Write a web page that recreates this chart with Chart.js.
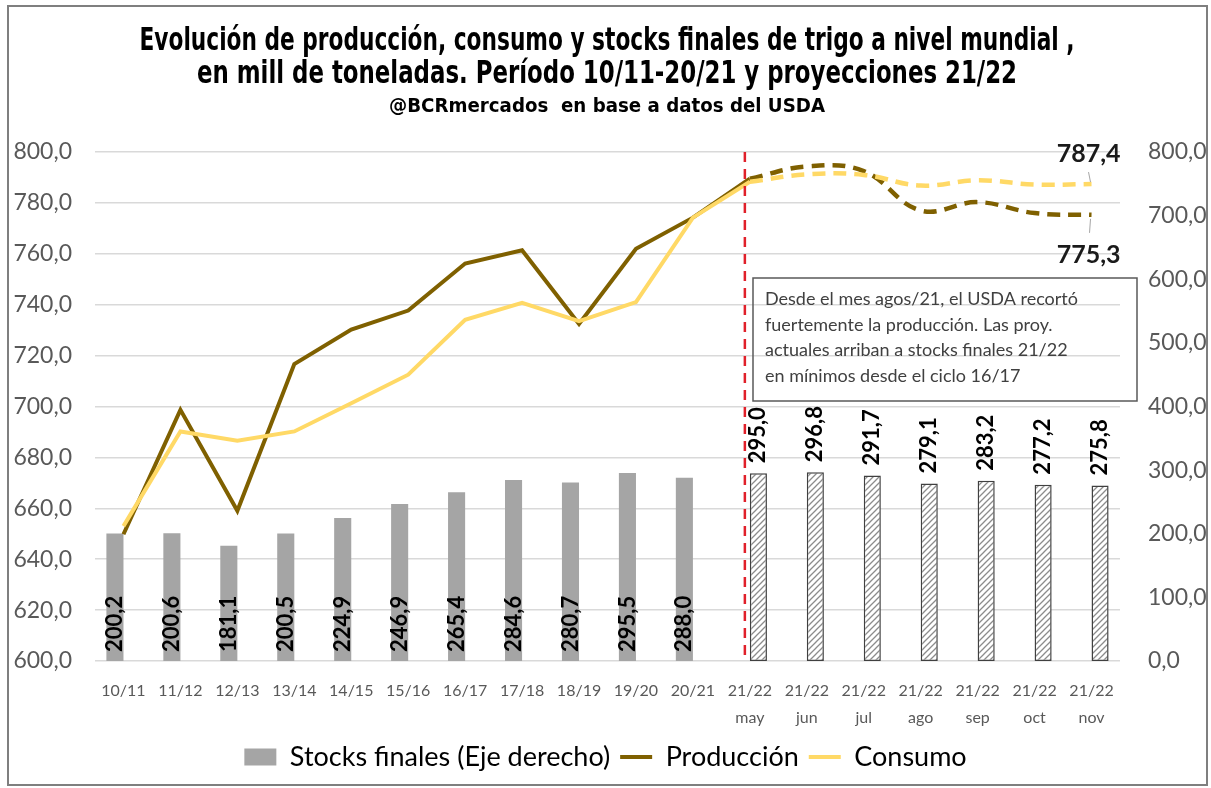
<!DOCTYPE html>
<html>
<head>
<meta charset="utf-8">
<script src="https://cdn.jsdelivr.net/npm/chart.js@4.4.0/dist/chart.umd.min.js"></script>
<style>
  html, body { margin: 0; padding: 0; background: #fff; }
  #wrap { width: 1211px; height: 788px; position: relative; }
</style>
</head>
<body>
<div id="wrap"><canvas id="myChart" width="1211" height="788"></canvas></div>
<script>
// campañas (las 7 ultimas son las proyecciones 21/22 de cada mes del USDA)
const categorias = ['10/11', '11/12', '12/13', '13/14', '14/15', '15/16', '16/17', '17/18', '18/19', '19/20', '20/21',
  ['21/22', 'may'], ['21/22', 'jun'], ['21/22', 'jul'], ['21/22', 'ago'], ['21/22', 'sep'], ['21/22', 'oct'], ['21/22', 'nov']];

// mill de toneladas, eje izquierdo
const produccion = [649.8, 698.7, 659.0, 716.7, 730.2, 737.7, 756.2, 761.4, 732.4, 762.0, 774.2,
  789.5, 794.3, 792.5, 777.0, 780.3, 776.0, 775.3];
const consumo = [653.0, 690.2, 686.6, 690.2, 701.3, 712.5, 734.1, 740.7, 733.5, 741.0, 774.2,
  788.3, 791.2, 791.0, 786.8, 788.9, 787.2, 787.4];

// stocks finales, eje derecho
const stocksHist = [200.2, 200.6, 181.1, 200.5, 224.9, 246.9, 265.4, 284.6, 280.7, 295.5, 288.0];
const stocksProy = [295.0, 296.8, 291.7, 279.1, 283.2, 277.2, 275.8];

const nota = ['Desde el mes agos/21, el USDA recortó',
  'fuertemente la producción. Las proy.',
  'actuales arriban a stocks finales 21/22',
  'en mínimos desde el ciclo 16/17'];

const inicioProy = stocksHist.length;
const fmt = v => Number(v).toFixed(1).replace('.', ',');
const nulls = n => Array(n).fill(null);

const stocksHistData = stocksHist.concat(nulls(stocksProy.length));
const stocksProyData = nulls(inicioProy).concat(stocksProy);
const prodSolida = produccion.map((v, i) => i <= inicioProy ? v : null);
const prodProy = produccion.map((v, i) => i >= inicioProy ? v : null);
const consSolida = consumo.map((v, i) => i <= inicioProy ? v : null);
const consProy = consumo.map((v, i) => i >= inicioProy ? v : null);

const colProd = '#7f6000';
const colCons = '#ffd966';
const colStock = '#a5a5a5';
const fuente = 'Lato, "Open Sans", sans-serif';

// rayado para las barras proyectadas
function rayado() {
  const s = 6;
  const p = document.createElement('canvas');
  p.width = s; p.height = s;
  const g = p.getContext('2d');
  g.fillStyle = '#fff';
  g.fillRect(0, 0, s, s);
  g.strokeStyle = '#8c8c8c';
  g.lineWidth = 1.3;
  g.beginPath();
  g.moveTo(0, s); g.lineTo(s, 0);
  g.moveTo(-1, 1); g.lineTo(1, -1);
  g.moveTo(s - 1, s + 1); g.lineTo(s + 1, s - 1);
  g.stroke();
  return g.createPattern(p, 'repeat');
}

const ctx = document.getElementById('myChart').getContext('2d');

const fondo = {
  id: 'fondo',
  beforeDraw(chart) {
    const c = chart.ctx;
    c.save();
    c.fillStyle = '#fff';
    c.fillRect(0, 0, chart.width, chart.height);
    c.restore();
  },
  afterDraw(chart) {
    const c = chart.ctx;
    c.save();
    c.strokeStyle = '#7f7f7f';
    c.lineWidth = 2;
    c.strokeRect(8, 6, 1199, 779);

    // titulo (fuente angosta, ajustada al ancho)
    const linea = (txt, y, font, w) => {
      c.font = font;
      const m = c.measureText(txt).width;
      c.save();
      c.translate(607, y);
      c.scale(w / m, 1);
      c.textAlign = 'center';
      c.textBaseline = 'middle';
      c.fillStyle = '#000';
      c.fillText(txt, 0, 0);
      c.restore();
    };
    const fTit = 'bold 32px "Liberation Sans Narrow", "DejaVu Sans Condensed", sans-serif';
    linea('Evolución de producción, consumo y stocks finales de trigo a nivel mundial ,', 42, fTit, 935);
    linea('en mill de toneladas. Período 10/11-20/21 y proyecciones 21/22', 75, fTit, 820);
    linea('@BCRmercados  en base a datos del USDA', 107, 'bold 19px "Liberation Sans Narrow", "DejaVu Sans Condensed", sans-serif', 436);

    // recuadro de texto
    const a = chart.chartArea;
    const bx = a.left + 658, by = 278, bw = 384, bh = 123;
    c.strokeStyle = '#595959';
    c.lineWidth = 1.5;
    c.strokeRect(bx, by, bw, bh);
    c.fillStyle = '#404040';
    c.font = '18px ' + fuente;
    c.textAlign = 'left';
    c.textBaseline = 'middle';
    nota.forEach((t, i) => c.fillText(t, bx + 12, by + 21 + i * 25.7));
    c.restore();
  }
};

const etiquetas = {
  id: 'etiquetas',
  afterDatasetsDraw(chart) {
    const c = chart.ctx;
    const a = chart.chartArea;
    c.save();

    // linea divisoria roja
    const xs = chart.scales.x;
    const xr = xs.getPixelForValue(inicioProy) - 5;
    c.strokeStyle = '#e0202a';
    c.lineWidth = 2.5;
    c.setLineDash([10, 7]);
    c.beginPath();
    c.moveTo(xr, a.top);
    c.lineTo(xr, a.bottom);
    c.stroke();
    c.setLineDash([]);

    // valores de las barras
    c.font = 'bold 22px ' + fuente;
    c.fillStyle = '#000';
    c.textAlign = 'left';
    c.textBaseline = 'middle';
    chart.getDatasetMeta(4).data.forEach((bar, i) => {
      const v = stocksHistData[i];
      if (v == null) return;
      c.save();
      c.translate(bar.x, bar.base - 9);
      c.rotate(-Math.PI / 2);
      c.fillText(fmt(v), 0, 0);
      c.restore();
    });
    chart.getDatasetMeta(5).data.forEach((bar, i) => {
      const v = stocksProyData[i];
      if (v == null) return;
      c.save();
      c.translate(bar.x, bar.y - 10);
      c.rotate(-Math.PI / 2);
      c.fillText(fmt(v), 0, 0);
      c.restore();
    });

    // ultimos valores de consumo y produccion
    const n = categorias.length - 1;
    const pc = chart.getDatasetMeta(3).data[n];
    const pp = chart.getDatasetMeta(2).data[n];
    c.strokeStyle = '#a6a6a6';
    c.lineWidth = 1;
    c.beginPath();
    c.moveTo(pc.x - 3, pc.y - 12); c.lineTo(pc.x - 1, pc.y - 2);
    c.moveTo(pp.x - 1, pp.y + 4); c.lineTo(pp.x - 2, pp.y + 18);
    c.stroke();
    c.font = 'bold 25px ' + fuente;
    c.fillStyle = '#1a1a1a';
    c.textAlign = 'right';
    c.fillText(fmt(consumo[n]), pc.x + 29, pc.y - 30);
    c.fillText(fmt(produccion[n]), pp.x + 29, pp.y + 40);
    c.restore();
  }
};

const myChart = new Chart(ctx, {
  type: 'bar',
  data: {
    labels: categorias,
    datasets: [
      { type: 'line', label: 'Producción', data: prodSolida, borderColor: colProd, backgroundColor: colProd,
        borderWidth: 4, pointRadius: 0, tension: 0, yAxisID: 'y', order: 2 },
      { type: 'line', label: 'Consumo', data: consSolida, borderColor: colCons, backgroundColor: colCons,
        borderWidth: 4, pointRadius: 0, tension: 0, yAxisID: 'y', order: 1 },
      { type: 'line', label: 'Producción proy', data: prodProy, borderColor: colProd, borderDash: [13, 8],
        borderWidth: 4.5, pointRadius: 0, tension: 0.4, yAxisID: 'y', order: 2 },
      { type: 'line', label: 'Consumo proy', data: consProy, borderColor: colCons, borderDash: [13, 8],
        borderWidth: 4.5, pointRadius: 0, tension: 0.4, yAxisID: 'y', order: 1 },
      { label: 'Stocks finales (Eje derecho)', data: stocksHistData, backgroundColor: colStock,
        yAxisID: 'y2', order: 3, barPercentage: 1, categoryPercentage: 0.6 },
      { label: 'Stocks proy', data: stocksProyData, backgroundColor: rayado(), borderColor: '#404040',
        borderWidth: 1.5, borderSkipped: false, yAxisID: 'y2', order: 3, barPercentage: 1, categoryPercentage: 0.6 }
    ]
  },
  options: {
    responsive: false,
    maintainAspectRatio: false,
    animation: false,
    layout: { padding: { top: 152, bottom: 7.5, left: 0, right: 0 } },
    plugins: {
      tooltip: { enabled: false },
      title: { display: false },
      legend: {
        position: 'bottom',
        labels: {
          usePointStyle: true,
          pointStyleWidth: 32,
          boxHeight: 17,
          padding: 10,
          color: '#404040',
          font: { family: fuente, size: 27 },
          generateLabels: () => [
            { text: 'Stocks finales (Eje derecho)', fillStyle: colStock, strokeStyle: colStock, lineWidth: 0,
              pointStyle: 'rect', datasetIndex: 4, hidden: false },
            { text: 'Producción', fillStyle: colProd, strokeStyle: colProd, lineWidth: 4,
              pointStyle: 'line', datasetIndex: 0, hidden: false },
            { text: 'Consumo', fillStyle: colCons, strokeStyle: colCons, lineWidth: 4,
              pointStyle: 'line', datasetIndex: 1, hidden: false }
          ]
        }
      }
    },
    scales: {
      x: {
        grid: { display: false, drawTicks: false },
        border: { display: false },
        ticks: { color: '#595959', font: { family: fuente, size: 16, lineHeight: 1.7 },
          maxRotation: 0, autoSkip: false, padding: 16 },
        afterFit: s => { s.height = 72.5; }
      },
      y: {
        position: 'left', min: 600, max: 800,
        ticks: { stepSize: 20, callback: fmt, color: '#595959', font: { family: fuente, size: 23 }, padding: 23 },
        grid: { color: '#d9d9d9', lineWidth: 1.5, drawTicks: false },
        border: { display: false },
        afterFit: s => { s.width = 95; }
      },
      y2: {
        position: 'right', min: 0, max: 800,
        ticks: { stepSize: 100, callback: fmt, color: '#595959', font: { family: fuente, size: 23 }, padding: 28 },
        grid: { display: false, drawTicks: false },
        border: { display: false },
        afterFit: s => { s.width = 91; }
      }
    }
  },
  plugins: [fondo, etiquetas]
});
</script>
</body>
</html>
